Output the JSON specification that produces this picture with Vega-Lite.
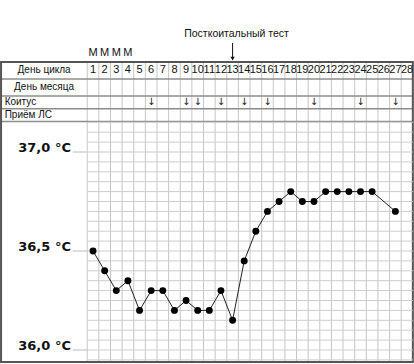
{
  "$schema": "https://vega.github.io/schema/vega-lite/v6.json",
  "width": 414,
  "height": 364,
  "autosize": {"type": "fit", "contains": "padding"},
  "padding": 0,
  "background": "white",
  "config": {"view": {"stroke": null}},
  "datasets": {
    "temps": [
      {"day": 1, "temp": 36.5}, {"day": 2, "temp": 36.4}, {"day": 3, "temp": 36.3},
      {"day": 4, "temp": 36.35}, {"day": 5, "temp": 36.2}, {"day": 6, "temp": 36.3},
      {"day": 7, "temp": 36.3}, {"day": 8, "temp": 36.2}, {"day": 9, "temp": 36.25},
      {"day": 10, "temp": 36.2}, {"day": 11, "temp": 36.2}, {"day": 12, "temp": 36.3},
      {"day": 13, "temp": 36.15}, {"day": 14, "temp": 36.45}, {"day": 15, "temp": 36.6},
      {"day": 16, "temp": 36.7}, {"day": 17, "temp": 36.75}, {"day": 18, "temp": 36.8},
      {"day": 19, "temp": 36.75}, {"day": 20, "temp": 36.75}, {"day": 21, "temp": 36.8},
      {"day": 22, "temp": 36.8}, {"day": 23, "temp": 36.8}, {"day": 24, "temp": 36.8},
      {"day": 25, "temp": 36.8}, {"day": 27, "temp": 36.7}
    ],
    "days": [
      {"day": 1}, {"day": 2}, {"day": 3}, {"day": 4}, {"day": 5}, {"day": 6}, {"day": 7},
      {"day": 8}, {"day": 9}, {"day": 10}, {"day": 11}, {"day": 12}, {"day": 13}, {"day": 14},
      {"day": 15}, {"day": 16}, {"day": 17}, {"day": 18}, {"day": 19}, {"day": 20}, {"day": 21},
      {"day": 22}, {"day": 23}, {"day": 24}, {"day": 25}, {"day": 26}, {"day": 27}, {"day": 28}
    ],
    "menses": [{"day": 1, "mark": "M"}, {"day": 2, "mark": "M"}, {"day": 3, "mark": "M"}, {"day": 4, "mark": "M"}],
    "coitus": [
      {"day": 6}, {"day": 9}, {"day": 10}, {"day": 12}, {"day": 14},
      {"day": 16}, {"day": 20}, {"day": 24}, {"day": 27}
    ],
    "rows": [
      {"row": "День цикла", "top": 0, "bottom": 1, "centered": true},
      {"row": "День месяца", "top": 1, "bottom": 2, "centered": true},
      {"row": "Коитус", "top": 2, "bottom": 2.75, "centered": false},
      {"row": "Приём ЛС", "top": 2.75, "bottom": 3.5, "centered": false}
    ],
    "cols": [
      {"edge": 0.5}, {"edge": 1.5}, {"edge": 2.5}, {"edge": 3.5}, {"edge": 4.5}, {"edge": 5.5},
      {"edge": 6.5}, {"edge": 7.5}, {"edge": 8.5}, {"edge": 9.5}, {"edge": 10.5}, {"edge": 11.5},
      {"edge": 12.5}, {"edge": 13.5}, {"edge": 14.5}, {"edge": 15.5}, {"edge": 16.5}, {"edge": 17.5},
      {"edge": 18.5}, {"edge": 19.5}, {"edge": 20.5}, {"edge": 21.5}, {"edge": 22.5}, {"edge": 23.5},
      {"edge": 24.5}, {"edge": 25.5}, {"edge": 26.5}, {"edge": 27.5}
    ],
    "grid": [
      {"t": 35.95}, {"t": 36.0}, {"t": 36.05}, {"t": 36.1}, {"t": 36.15}, {"t": 36.2}, {"t": 36.25},
      {"t": 36.3}, {"t": 36.35}, {"t": 36.4}, {"t": 36.45}, {"t": 36.5}, {"t": 36.55}, {"t": 36.6},
      {"t": 36.65}, {"t": 36.7}, {"t": 36.75}, {"t": 36.8}, {"t": 36.85}, {"t": 36.9}, {"t": 36.95},
      {"t": 37.0}, {"t": 37.05}, {"t": 37.1}, {"t": 37.15}
    ],
    "major": [
      {"t": 36.0, "label": "36,0 °C"}, {"t": 36.5, "label": "36,5 °C"}, {"t": 37.0, "label": "37,0 °C"}
    ]
  },
  "resolve": {"scale": {"y": "independent"}},
  "layer": [
    {
      "layer": [
        {
          "data": {"name": "cols"},
          "mark": {"type": "rule", "color": "#c6c6c6", "strokeWidth": 1},
          "encoding": {
            "x": {"field": "edge", "type": "quantitative", "scale": {"domain": [-7, 28.6], "nice": false, "zero": false}, "axis": null},
            "y": {"datum": 0, "type": "quantitative", "scale": {"domain": [-3.647, 17.765], "nice": false, "zero": false, "reverse": true}, "axis": null},
            "y2": {"datum": 17.65}
          }
        },
        {
          "data": {"name": "rows"},
          "mark": {"type": "rule", "color": "#8c8c8c", "strokeWidth": 1.5},
          "encoding": {
            "y": {"field": "bottom", "type": "quantitative", "scale": {"domain": [-3.647, 17.765], "nice": false, "zero": false, "reverse": true}, "axis": null},
            "x": {"datum": -6.91, "type": "quantitative", "scale": {"domain": [-7, 28.6], "nice": false, "zero": false}, "axis": null},
            "x2": {"datum": 28.5}
          }
        },
        {
          "data": {"values": [{}]},
          "mark": {"type": "rect", "filled": false, "stroke": "#555555", "strokeWidth": 2},
          "encoding": {
            "x": {"datum": -6.91, "type": "quantitative", "scale": {"domain": [-7, 28.6], "nice": false, "zero": false}, "axis": null},
            "x2": {"datum": 28.5},
            "y": {"datum": 0, "type": "quantitative", "scale": {"domain": [-3.647, 17.765], "nice": false, "zero": false, "reverse": true}, "axis": null},
            "y2": {"datum": 17.65}
          }
        },
        {
          "data": {"name": "rows"},
          "transform": [{"filter": "datum.centered"}, {"calculate": "(datum.top + datum.bottom) / 2", "as": "mid"}],
          "mark": {"type": "text", "align": "center", "baseline": "middle", "font": "Liberation Sans", "fontSize": 10, "color": "#111"},
          "encoding": {
            "x": {"datum": -3.21, "type": "quantitative", "scale": {"domain": [-7, 28.6], "nice": false, "zero": false}, "axis": null},
            "y": {"field": "mid", "type": "quantitative", "scale": {"domain": [-3.647, 17.765], "nice": false, "zero": false, "reverse": true}, "axis": null},
            "text": {"field": "row"}
          }
        },
        {
          "data": {"name": "rows"},
          "transform": [{"filter": "!datum.centered"}, {"calculate": "(datum.top + datum.bottom) / 2", "as": "mid"}],
          "mark": {"type": "text", "align": "left", "baseline": "middle", "font": "Liberation Sans", "fontSize": 10, "color": "#111"},
          "encoding": {
            "x": {"datum": -6.6, "type": "quantitative", "scale": {"domain": [-7, 28.6], "nice": false, "zero": false}, "axis": null},
            "y": {"field": "mid", "type": "quantitative", "scale": {"domain": [-3.647, 17.765], "nice": false, "zero": false, "reverse": true}, "axis": null},
            "text": {"field": "row"}
          }
        },
        {
          "data": {"name": "days"},
          "mark": {"type": "text", "align": "center", "baseline": "middle", "font": "Liberation Sans", "fontSize": 11, "color": "#111"},
          "encoding": {
            "x": {"field": "day", "type": "quantitative", "scale": {"domain": [-7, 28.6], "nice": false, "zero": false}, "axis": null},
            "y": {"datum": 0.5, "type": "quantitative", "scale": {"domain": [-3.647, 17.765], "nice": false, "zero": false, "reverse": true}, "axis": null},
            "text": {"field": "day"}
          }
        },
        {
          "data": {"name": "menses"},
          "mark": {"type": "text", "align": "center", "baseline": "middle", "font": "Liberation Sans", "fontSize": 11, "color": "#111"},
          "encoding": {
            "x": {"field": "day", "type": "quantitative", "scale": {"domain": [-7, 28.6], "nice": false, "zero": false}, "axis": null},
            "y": {"datum": -0.5, "type": "quantitative", "scale": {"domain": [-3.647, 17.765], "nice": false, "zero": false, "reverse": true}, "axis": null},
            "text": {"field": "mark"}
          }
        },
        {
          "data": {"name": "coitus"},
          "mark": {"type": "text", "align": "center", "baseline": "middle", "font": "DejaVu Sans", "fontSize": 10, "color": "#222", "text": "↓"},
          "encoding": {
            "x": {"field": "day", "type": "quantitative", "scale": {"domain": [-7, 28.6], "nice": false, "zero": false}, "axis": null},
            "y": {"datum": 2.375, "type": "quantitative", "scale": {"domain": [-3.647, 17.765], "nice": false, "zero": false, "reverse": true}, "axis": null}
          }
        },
        {
          "data": {"values": [{"day": 13, "note": "Посткоитальный тест"}]},
          "mark": {"type": "text", "align": "center", "baseline": "middle", "font": "Liberation Sans", "fontSize": 10.5, "color": "#111", "dx": 4},
          "encoding": {
            "x": {"field": "day", "type": "quantitative", "scale": {"domain": [-7, 28.6], "nice": false, "zero": false}, "axis": null},
            "y": {"datum": -1.65, "type": "quantitative", "scale": {"domain": [-3.647, 17.765], "nice": false, "zero": false, "reverse": true}, "axis": null},
            "text": {"field": "note"}
          }
        },
        {
          "data": {"values": [{"day": 13}]},
          "mark": {"type": "rule", "color": "#111", "strokeWidth": 1},
          "encoding": {
            "x": {"field": "day", "type": "quantitative", "scale": {"domain": [-7, 28.6], "nice": false, "zero": false}, "axis": null},
            "y": {"datum": -1.12, "type": "quantitative", "scale": {"domain": [-3.647, 17.765], "nice": false, "zero": false, "reverse": true}, "axis": null},
            "y2": {"datum": -0.2}
          }
        },
        {
          "data": {"values": [{"day": 13}]},
          "mark": {"type": "point", "shape": "triangle-down", "filled": true, "color": "#111", "size": 18, "opacity": 1},
          "encoding": {
            "x": {"field": "day", "type": "quantitative", "scale": {"domain": [-7, 28.6], "nice": false, "zero": false}, "axis": null},
            "y": {"datum": -0.2, "type": "quantitative", "scale": {"domain": [-3.647, 17.765], "nice": false, "zero": false, "reverse": true}, "axis": null}
          }
        }
      ]
    },
    {
      "layer": [
        {
          "data": {"name": "grid"},
          "mark": {"type": "rule", "color": "#cdcdcd", "strokeWidth": 1},
          "encoding": {
            "y": {"field": "t", "type": "quantitative", "scale": {"domain": [35.9293, 37.7677], "nice": false, "zero": false}, "axis": null},
            "x": {"datum": 0.5, "type": "quantitative", "scale": {"domain": [-7, 28.6], "nice": false, "zero": false}, "axis": null},
            "x2": {"datum": 28.5}
          }
        },
        {
          "data": {"name": "major"},
          "mark": {"type": "rule", "color": "#bdbdbd", "strokeWidth": 1},
          "encoding": {
            "y": {"field": "t", "type": "quantitative", "scale": {"domain": [35.9293, 37.7677], "nice": false, "zero": false}, "axis": null},
            "x": {"datum": -0.75, "type": "quantitative", "scale": {"domain": [-7, 28.6], "nice": false, "zero": false}, "axis": null},
            "x2": {"datum": 0.5}
          }
        },
        {
          "data": {"name": "major"},
          "mark": {"type": "text", "align": "right", "baseline": "alphabetic", "font": "DejaVu Sans", "fontSize": 13, "fontWeight": "bold", "color": "#111"},
          "encoding": {
            "y": {"field": "t", "type": "quantitative", "scale": {"domain": [35.9293, 37.7677], "nice": false, "zero": false}, "axis": null},
            "x": {"datum": -0.9, "type": "quantitative", "scale": {"domain": [-7, 28.6], "nice": false, "zero": false}, "axis": null},
            "text": {"field": "label"}
          }
        },
        {
          "data": {"name": "temps"},
          "mark": {"type": "line", "color": "#222", "strokeWidth": 1},
          "encoding": {
            "x": {"field": "day", "type": "quantitative", "scale": {"domain": [-7, 28.6], "nice": false, "zero": false}, "axis": null},
            "y": {"field": "temp", "type": "quantitative", "scale": {"domain": [35.9293, 37.7677], "nice": false, "zero": false}, "axis": null}
          }
        },
        {
          "data": {"name": "temps"},
          "mark": {"type": "circle", "color": "#000", "size": 48, "opacity": 1},
          "encoding": {
            "x": {"field": "day", "type": "quantitative", "scale": {"domain": [-7, 28.6], "nice": false, "zero": false}, "axis": null},
            "y": {"field": "temp", "type": "quantitative", "scale": {"domain": [35.9293, 37.7677], "nice": false, "zero": false}, "axis": null}
          }
        }
      ]
    }
  ]
}
